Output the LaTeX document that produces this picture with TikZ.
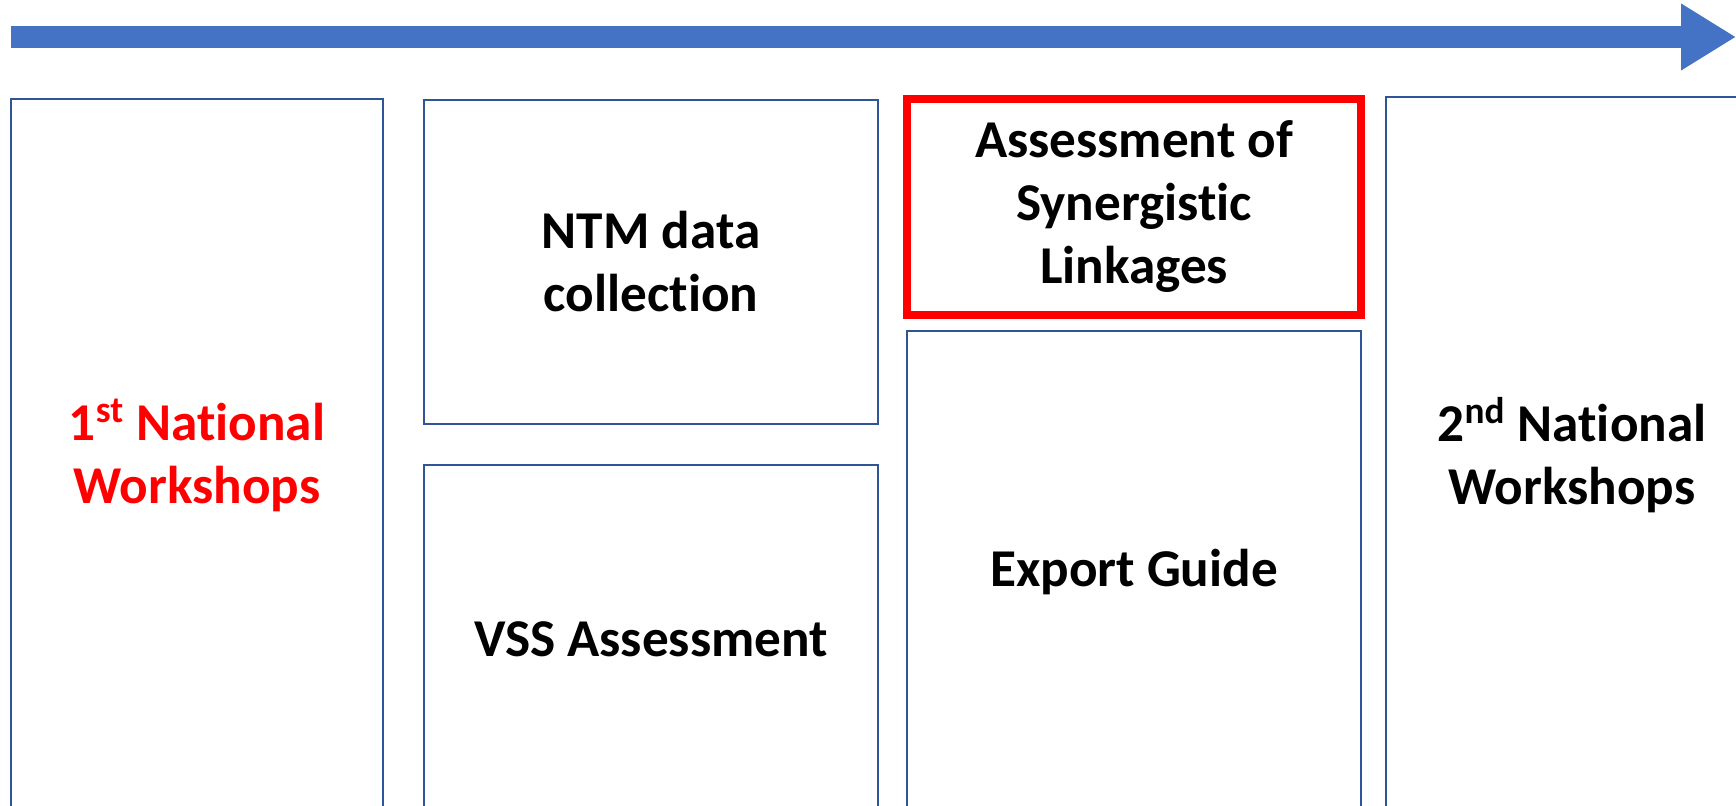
\documentclass[tikz,border=0pt]{standalone}
\usepackage{fontspec}
\setmainfont{Carlito}[Ligatures=NoCommon]
\usetikzlibrary{arrows.meta}
\definecolor{arrowblue}{HTML}{4472C4}
\definecolor{boxblue}{HTML}{2F5597}
\begin{document}
\begin{tikzpicture}[x=0.5pt,y=-0.5pt,
    box/.style={draw=boxblue, line width=1pt, align=center,
        font=\fontsize{26.6}{31.5}\selectfont\bfseries, inner sep=0pt},
    redbox/.style={box, draw=red, line width=4pt}]
    \useasboundingbox (0,0) rectangle (1736,806);
    \clip (0,0) rectangle (1736,806);
    \coordinate (start) at (11,37);
    \coordinate (end) at (1736,37);
    \draw[arrowblue, line width=11pt, -{Triangle[length=27.5pt, width=31.5pt]}] (start) -- (end);
    \node[box, minimum width=186pt, minimum height=356pt, text=red] (ws1) at (197,455) {1\textsuperscript{st} National\\Workshops};
    \node[box, minimum width=227pt, minimum height=162pt] (ntm) at (651,262) {NTM data\\collection};
    \node[box, minimum width=227pt, minimum height=174pt] (vss) at (651,639) {VSS Assessment};
    \node[redbox, minimum width=227pt, minimum height=108pt] (syn) at (1134,207) {Assessment of\\Synergistic\\Linkages};
    \node[box, minimum width=227pt, minimum height=241pt] (exp) at (1134,572) {Export Guide};
    \node[box, minimum width=186pt, minimum height=358pt] (ws2) at (1572,455) {2\textsuperscript{nd} National\\Workshops};
\end{tikzpicture}
\end{document}
